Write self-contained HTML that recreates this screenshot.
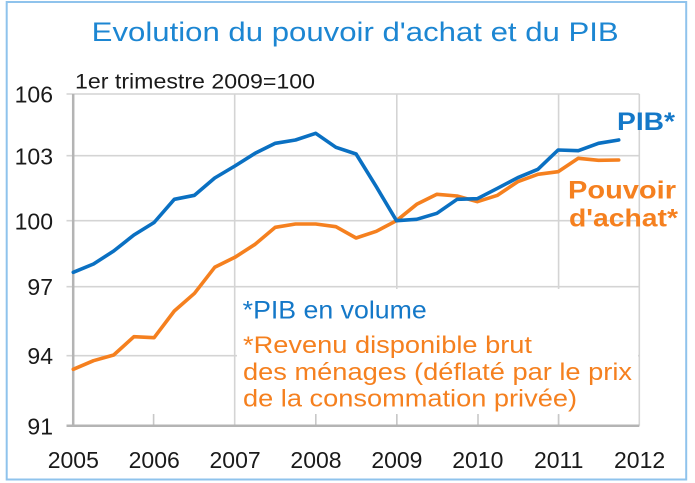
<!DOCTYPE html>
<html>
<head>
<meta charset="utf-8">
<style>
  html, body { margin: 0; padding: 0; background: #ffffff; }
  body { width: 695px; height: 483px; overflow: hidden; }
  svg { display: block; }
  text { font-family: "Liberation Sans", "DejaVu Sans", sans-serif; }
</style>
</head>
<body>
<svg width="695" height="483" viewBox="0 0 695 483" xmlns="http://www.w3.org/2000/svg">
  <rect x="0" y="0" width="695" height="483" fill="#ffffff"/>
  <!-- outer frame -->
  <rect x="6.7" y="2" width="679.5" height="477.5" fill="none" stroke="#8fc3ec" stroke-width="2"/>

  <!-- title -->
  <text x="91.7" y="41" font-size="27" fill="#1c86d2" textLength="527" lengthAdjust="spacingAndGlyphs">Evolution du pouvoir d'achat et du PIB</text>

  <!-- subtitle -->
  <text x="75" y="88.3" font-size="21" fill="#1a1a1a" textLength="240" lengthAdjust="spacingAndGlyphs">1er trimestre 2009=100</text>

  <!-- gridlines horizontal -->
  <g stroke="#d4d4d4" stroke-width="1.6" fill="none">
    <line x1="66.5" y1="94" x2="639.3" y2="94"/>
    <line x1="66.5" y1="155.7" x2="639.3" y2="155.7"/>
    <line x1="66.5" y1="220.7" x2="639.3" y2="220.7"/>
    <line x1="66.5" y1="286.7" x2="639.3" y2="286.7"/>
    <line x1="66.5" y1="355.7" x2="639.3" y2="355.7"/>
    <!-- vertical gridlines -->
    <line x1="234.7" y1="94" x2="234.7" y2="425.7"/>
    <line x1="396.8" y1="94" x2="396.8" y2="425.7"/>
    <line x1="558.6" y1="94" x2="558.6" y2="425.7"/>
    <line x1="639.3" y1="94" x2="639.3" y2="425.7"/>
  </g>

  <!-- legend background box (hides gridlines) -->
  <rect x="237" y="289" width="401" height="126" fill="#ffffff"/>

  <!-- minor ticks -->
  <g stroke="#c8c8c8" stroke-width="1.6">
    <line x1="153.6" y1="414" x2="153.6" y2="425.7"/>
    <line x1="315.8" y1="414" x2="315.8" y2="425.7"/>
    <line x1="396.8" y1="414" x2="396.8" y2="425.7"/>
    <line x1="478" y1="414" x2="478" y2="425.7"/>
    <line x1="558.6" y1="414" x2="558.6" y2="425.7"/>
  </g>

  <!-- axes -->
  <g stroke="#b4b4b4" stroke-width="2.5">
    <line x1="73.2" y1="94" x2="73.2" y2="426.5"/>
    <line x1="66.5" y1="425.8" x2="639.3" y2="425.8"/>
  </g>

  <!-- y labels -->
  <g font-size="23" fill="#1a1a1a" text-anchor="end">
    <text x="53" y="102.7">106</text>
    <text x="53" y="164.4">103</text>
    <text x="53" y="229.4">100</text>
    <text x="53" y="295.2">97</text>
    <text x="53" y="364.2">94</text>
    <text x="53" y="434.7">91</text>
  </g>

  <!-- x labels -->
  <g font-size="23" fill="#1a1a1a" text-anchor="middle">
    <text x="73.3" y="468">2005</text>
    <text x="154.2" y="468">2006</text>
    <text x="235.1" y="468">2007</text>
    <text x="316" y="468">2008</text>
    <text x="396.9" y="468">2009</text>
    <text x="477.8" y="468">2010</text>
    <text x="558.7" y="468">2011</text>
    <text x="639.6" y="468">2012</text>
  </g>

  <!-- series: Pouvoir d'achat -->
  <polyline fill="none" stroke="#f5801f" stroke-width="3.6" stroke-linejoin="round" stroke-linecap="round"
    points="73.3,369.3 93.5,360.7 113.7,355 133.9,336.7 154.1,337.7 174.3,311 194.5,293.3 214.7,267.3 234.9,257.3 255.1,244.3 275.3,227.3 295.5,224 315.7,224 335.9,226.7 356.1,238 376.3,231.3 396.5,220.7 416.7,204.3 436.9,194.3 457.1,196 477.3,201.7 497.5,195.3 517.7,181.7 537.9,174.3 558.1,171.7 578.3,158.3 598.5,160.3 618.7,160"/>

  <!-- series: PIB -->
  <polyline fill="none" stroke="#0a70c2" stroke-width="3.6" stroke-linejoin="round" stroke-linecap="round"
    points="73.3,272.3 93.5,264 113.7,251 133.9,235 154.1,222.5 174.3,199.3 194.5,195.3 214.7,178 234.9,166 255.1,153.3 275.3,143.3 295.5,140 315.7,133.3 335.9,147.3 356.1,154 376.3,186.7 396.5,220.7 416.7,219.3 436.9,213.3 457.1,199.3 477.3,198.7 497.5,188.3 517.7,177.7 537.9,169.3 558.1,150 578.3,150.7 598.5,143.3 618.7,140"/>

  <!-- series labels -->
  <text x="617" y="130" font-size="25" font-weight="bold" fill="#1478c8" textLength="58" lengthAdjust="spacingAndGlyphs">PIB*</text>
  <text x="568" y="198.3" font-size="25" font-weight="bold" fill="#f5801f" textLength="108" lengthAdjust="spacingAndGlyphs">Pouvoir</text>
  <text x="569" y="226.7" font-size="25" font-weight="bold" fill="#f5801f" textLength="109" lengthAdjust="spacingAndGlyphs">d'achat*</text>

  <!-- legend notes -->
  <text x="242.7" y="318.3" font-size="25" fill="#1478c8" textLength="184" lengthAdjust="spacingAndGlyphs">*PIB en volume</text>
  <g font-size="24" fill="#f5801f">
    <text x="243" y="353" textLength="289" lengthAdjust="spacingAndGlyphs">*Revenu disponible brut</text>
    <text x="243" y="380" textLength="389" lengthAdjust="spacingAndGlyphs">des ménages (déflaté par le prix</text>
    <text x="243" y="406.5" textLength="334" lengthAdjust="spacingAndGlyphs">de la consommation privée)</text>
  </g>
</svg>
</body>
</html>
